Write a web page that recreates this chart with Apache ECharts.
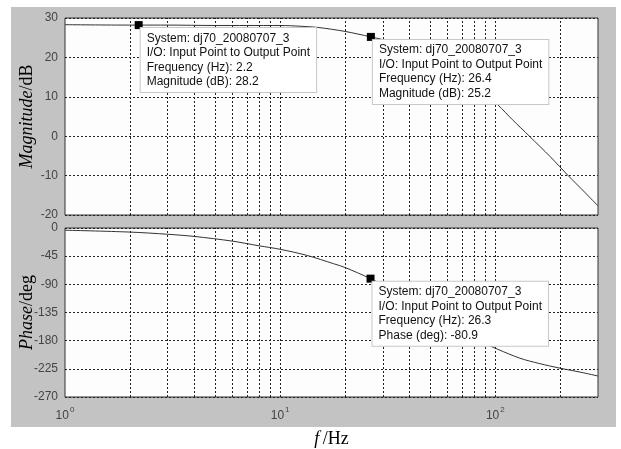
<!DOCTYPE html>
<html>
<head>
<meta charset="utf-8">
<script src="https://cdn.jsdelivr.net/npm/echarts@6/dist/echarts.min.js"></script>
<style>
html, body { margin: 0; padding: 0; background: #fff; }
#wrap { position: relative; width: 621px; height: 449px; }
#panel { position: absolute; left: 11px; top: 7px; width: 605px; height: 420px; background: #c3c3c3; }
#chart { position: absolute; left: 0; top: 0; width: 621px; height: 449px; }
</style>
</head>
<body>
<div id="wrap">
  <div id="panel"></div>
  <div id="chart"></div>
</div>
<script>
// 幅频数据
var magFreq = [1, 2, 2.2, 3, 5, 7, 10, 12.5, 15, 20, 26.4, 30, 40, 50, 60, 70, 80, 90, 103, 120, 144, 180, 218, 260, 300]
var magDb = [28.3, 28.2, 28.2, 28.2, 28.1, 28.1, 28.1, 27.9, 27.6, 26.6, 25.2, 24.5, 22.3, 20.0, 17.8, 15.5, 13.2, 10.7, 7.9, 4.2, 0, -5.2, -10, -14.2, -17.7]
// 相频数据
var phFreq = [1, 2, 3, 4, 6, 8, 10, 13.4, 17.7, 20, 26.3, 30, 40, 50, 60, 70, 80, 90, 103, 130, 160, 200, 250, 300]
var phDeg = [-3.5, -6.5, -10, -13.5, -21, -28.5, -34, -44, -57, -63, -80.9, -91, -116, -136, -152, -165, -176, -185, -194, -208, -216.5, -224, -230.5, -236.5]
// 网格线位置
var gridFreqs = [2, 3, 4, 5, 6, 7, 8, 9, 10, 20, 30, 40, 50, 60, 70, 80, 90, 100, 200]
var magTicks = { min: -20, max: 30, step: 10 }
var phTicks = { min: -270, max: 0, step: 45 }
// 数据提示
var magTips = [
  { freq: 2.2, val: 28.2 },
  { freq: 26.4, val: 25.2 }
]
var phTips = [
  { freq: 26.3, val: -80.9 }
]
var sysName = 'dj70_20080707_3'

function pairs (xs, ys) {
  return xs.map(function (x, i) { return [x, ys[i]] })
}

var dotted = { color: '#222', width: 1, type: [2, 2] }
var tickFont = { fontFamily: 'Liberation Sans', fontSize: 12, color: '#444' }

function tipLabel (kind) {
  return {
    show: true,
    position: [6, 7],
    align: 'left',
    verticalAlign: 'top',
    backgroundColor: '#fff',
    borderColor: '#c8c8c8',
    borderWidth: 1,
    padding: [3, 6, 3, 6],
    fontFamily: 'Liberation Sans',
    fontSize: 12,
    lineHeight: 14.5,
    color: '#111',
    formatter: function (p) {
      var c = p.data.coord
      return 'System: ' + sysName + '\nI/O: Input Point to Output Point\nFrequency (Hz): ' + c[0] +
        '\n' + (kind === 'mag' ? 'Magnitude (dB): ' : 'Phase (deg): ') + c[1]
    }
  }
}

function vGrid () {
  return {
    silent: true,
    symbol: 'none',
    label: { show: false },
    lineStyle: dotted,
    data: gridFreqs.map(function (f) { return { xAxis: f } })
  }
}

function logLabel (v) {
  var e = Math.log10(v)
  var r = Math.round(e)
  if (Math.abs(e - r) > 1e-6) return ''
  return '{b|10}{s|' + r + '}'
}

var xBase = {
  type: 'log',
  logBase: 10,
  min: 1,
  max: 300,
  axisLine: { show: false },
  axisTick: { show: false },
  splitLine: { show: false }
}

var nameRich = {
  i: { fontFamily: 'Liberation Serif', fontStyle: 'italic', fontSize: 18, color: '#000' },
  n: { fontFamily: 'Liberation Serif', fontSize: 18, color: '#000' }
}

var chart = echarts.init(document.getElementById('chart'), null, { renderer: 'canvas' })
chart.setOption({
  animation: false,
  backgroundColor: 'transparent',
  grid: [
    { left: 65, top: 18, width: 533, height: 197, show: true, backgroundColor: '#fdfdfd', borderColor: '#333', borderWidth: 1 },
    { left: 65, top: 228, width: 533, height: 175, show: true, backgroundColor: '#fdfdfd', borderColor: '#333', borderWidth: 1 }
  ],
  xAxis: [
    Object.assign({}, xBase, { gridIndex: 0, axisLabel: { show: false } }),
    Object.assign({}, xBase, {
      gridIndex: 1,
      axisLabel: {
        show: true,
        margin: 9,
        formatter: logLabel,
        rich: {
          b: { fontFamily: 'Liberation Sans', fontSize: 12, color: '#444', lineHeight: 16, verticalAlign: 'bottom' },
          s: { fontFamily: 'Liberation Sans', fontSize: 8, color: '#444', lineHeight: 16, verticalAlign: 'top', padding: [0, 0, 0, 1] }
        }
      },
      name: '{i|f} {n|/Hz}',
      nameLocation: 'middle',
      nameGap: 33,
      nameMoveOverlap: false,
      nameTextStyle: { rich: nameRich }
    })
  ],
  yAxis: [
    {
      gridIndex: 0, type: 'value', min: magTicks.min, max: magTicks.max, interval: magTicks.step,
      axisLine: { show: false }, axisTick: { show: false },
      axisLabel: Object.assign({ margin: 7 }, tickFont),
      splitLine: { show: true, lineStyle: dotted },
      name: '{i|Magnitude}{n|/dB}',
      nameLocation: 'middle',
      nameGap: 29,
      nameMoveOverlap: false,
      nameRotate: 90,
      nameTextStyle: { rich: nameRich }
    },
    {
      gridIndex: 1, type: 'value', min: phTicks.min, max: phTicks.max, interval: phTicks.step,
      axisLine: { show: false }, axisTick: { show: false },
      axisLabel: Object.assign({ margin: 7 }, tickFont),
      splitLine: { show: true, lineStyle: dotted },
      name: '{i|Phase}{n|/deg}',
      nameLocation: 'middle',
      nameGap: 29,
      nameMoveOverlap: false,
      nameRotate: 90,
      nameTextStyle: { rich: nameRich }
    }
  ],
  series: [
    {
      type: 'line',
      xAxisIndex: 0,
      yAxisIndex: 0,
      data: pairs(magFreq, magDb),
      smooth: 0.3,
      showSymbol: false,
      lineStyle: { color: '#333', width: 1 },
      markLine: vGrid(),
      markPoint: {
        symbol: 'rect',
        symbolSize: 8,
        itemStyle: { color: '#000' },
        label: tipLabel('mag'),
        data: magTips.map(function (t) { return { coord: [t.freq, t.val] } })
      }
    },
    {
      type: 'line',
      xAxisIndex: 1,
      yAxisIndex: 1,
      data: pairs(phFreq, phDeg),
      smooth: 0.3,
      showSymbol: false,
      lineStyle: { color: '#333', width: 1 },
      markLine: vGrid(),
      markPoint: {
        symbol: 'rect',
        symbolSize: 8,
        itemStyle: { color: '#000' },
        label: tipLabel('ph'),
        data: phTips.map(function (t) { return { coord: [t.freq, t.val] } })
      }
    }
  ]
})
</script>
</body>
</html>
